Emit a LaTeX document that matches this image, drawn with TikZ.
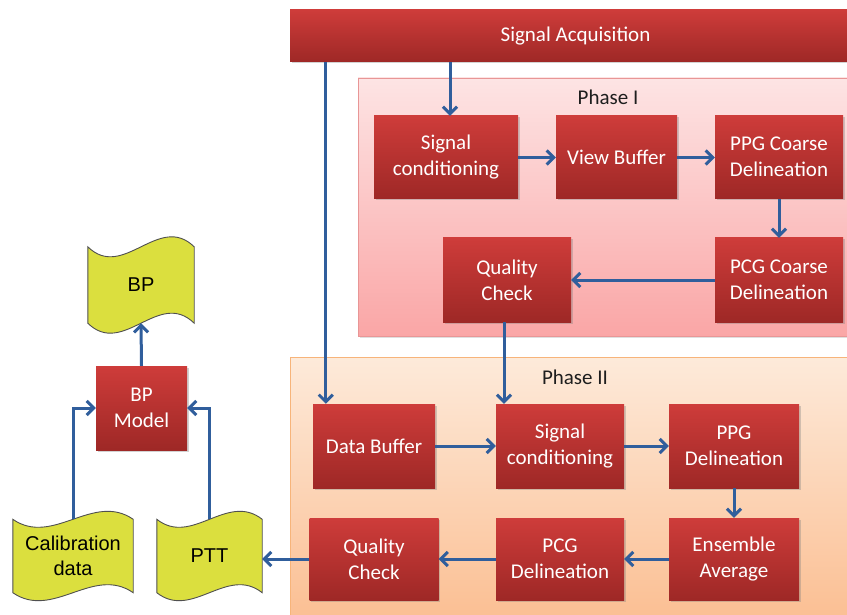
\documentclass[tikz,border=0pt]{standalone}
\usepackage{fontspec}
\setmainfont{Carlito}
\newfontfamily\arialf{Liberation Sans}
\usetikzlibrary{arrows.meta,shadows,calc}
\pgfdeclarelayer{bg}
\pgfsetlayers{bg,main}
\definecolor{arrowblue}{RGB}{48,94,156}
\definecolor{boxtop}{RGB}{206,60,58}
\definecolor{boxbot}{RGB}{158,40,38}
\definecolor{tapefill}{RGB}{219,223,62}
\definecolor{tapeline}{RGB}{80,80,80}
\definecolor{panelAline}{RGB}{232,150,150}
\definecolor{panelAtop}{RGB}{253,228,228}
\definecolor{panelAbot}{RGB}{250,166,166}
\definecolor{panelBline}{RGB}{247,180,122}
\definecolor{panelBtop}{RGB}{253,234,218}
\definecolor{panelBbot}{RGB}{251,188,142}
\definecolor{labeltext}{RGB}{30,30,30}
\tikzset{
  redbox/.style={rectangle, draw=none, top color=boxtop, bottom color=boxbot,
    text=white, font=\fontsize{21}{26}\selectfont, align=center, inner sep=2pt,
    drop shadow={shadow xshift=1.5pt, shadow yshift=-1.5pt, opacity=.35}},
  panelA/.style={rectangle, draw=panelAline, line width=0.8pt, top color=panelAtop,
    bottom color=panelAbot, drop shadow={shadow xshift=1.5pt, shadow yshift=-1.5pt, opacity=.25}},
  panelB/.style={rectangle, draw=panelBline, line width=0.8pt, top color=panelBtop,
    bottom color=panelBbot, drop shadow={shadow xshift=1.5pt, shadow yshift=-1.5pt, opacity=.25}},
  phaselabel/.style={font=\fontsize{21}{26}\selectfont, text=labeltext},
  tapenode/.style={rectangle, draw=none, inner sep=0pt, align=center,
    font=\arialf\fontsize{20}{25}\selectfont, text=black},
  tapeshape/.style={fill=tapefill, draw=tapeline, line width=0.9pt},
  arr/.style={draw=arrowblue, line width=3pt,
    -{Straight Barb[length=7pt,width=14pt]}}
}
\newcommand\tapepath[2]{%
  \begin{pgfonlayer}{bg}
  \filldraw[tapeshape] let \p1=(#1.north west), \p2=(#1.south east),
      \n1={(\x2-\x1)/3}, \n2={3.46*#2} in
    (\x1,\y1) .. controls ({\x1+\n1*1pt},{\y1-\n2*1pt}) and ({\x1+2*\n1*1pt},{\y1+\n2*1pt}) .. (\x2,\y1)
    -- (\x2,\y2) .. controls ({\x1+2*\n1*1pt},{\y2+\n2*1pt}) and ({\x1+\n1*1pt},{\y2-\n2*1pt}) .. (\x1,\y2)
    -- cycle;
  \end{pgfonlayer}}
\begin{document}
\begin{tikzpicture}[x=1pt,y=-1pt]
\clip (0,0) rectangle (847,615);
\begin{pgfonlayer}{bg}
\fill[white] (0,0) rectangle (847,615);
\end{pgfonlayer}

% panels
\node[panelA, minimum width=500pt, minimum height=258pt] (p1) at (608,207) {};
\node[panelB, minimum width=570pt, minimum height=280pt] (p2) at (575,497) {};
\node[phaselabel] (lab1) at (608,97) {Phase I};
\node[phaselabel] (lab2) at (575,377) {Phase II};

% top bar
\node[redbox, minimum width=571pt, minimum height=52pt] (sa) at (575.5,36) {Signal Acquisition};

% phase I
\node[redbox, minimum width=144pt, minimum height=83pt] (sc1) at (446,157.5) {Signal\\conditioning};
\node[redbox, minimum width=121pt, minimum height=83pt] (vb) at (616.5,157.5) {View Buffer};
\node[redbox, minimum width=128pt, minimum height=83pt] (ppgc) at (779,157) {PPG Coarse\\Delineation};
\node[redbox, minimum width=128pt, minimum height=84pt] (pcgc) at (779,280) {PCG Coarse\\Delineation};
\node[redbox, minimum width=128pt, minimum height=84pt] (qc1) at (507,280) {Quality\\Check};

% phase II
\node[redbox, minimum width=122pt, minimum height=84pt] (db) at (374,446) {Data Buffer};
\node[redbox, minimum width=128pt, minimum height=84pt] (sc2) at (560,446) {Signal\\conditioning};
\node[redbox, minimum width=130pt, minimum height=84pt] (ppgd) at (734,446) {PPG\\Delineation};
\node[redbox, minimum width=130pt, minimum height=82pt] (ens) at (734,559) {Ensemble\\Average};
\node[redbox, minimum width=128pt, minimum height=82pt] (pcgd) at (560,559) {PCG\\Delineation};
\node[redbox, minimum width=129pt, minimum height=82pt] (qc2) at (374,559) {Quality\\Check};

% left side
\node[redbox, minimum width=91pt, minimum height=84pt] (bpm) at (141.5,408) {BP\\Model};
\node[tapenode, minimum width=106pt, minimum height=76pt] (bp) at (141,285) {BP};
\node[tapenode, minimum width=120pt, minimum height=73pt] (cal) at (73,556) {Calibration\\data};
\node[tapenode, minimum width=105pt, minimum height=73pt] (ptt) at (209.5,556) {PTT};
\tapepath{bp}{10}
\tapepath{cal}{8}
\tapepath{ptt}{8}

% connectors
\coordinate (dbin) at ($(db.north west)+(13,0)$);
\coordinate (sc1in) at ($(sc1.north)+(4,0)$);
\draw[arr] (sa.south -| sc1in) -- (sc1in);
\draw[arr] (sa.south -| dbin) -- (dbin);
\draw[arr] (sc1.east) -- (vb.west);
\draw[arr] (vb.east) -- (vb.east -| ppgc.west);
\draw[arr] (ppgc.south) -- (pcgc.north);
\draw[arr] (pcgc.west) -- (qc1.east);
\coordinate (qcout) at ($(qc1.south)+(-3,0)$);
\draw[arr] (qcout) -- (qcout |- sc2.north);
\draw[arr] (db.east) -- (sc2.west);
\draw[arr] (sc2.east) -- (ppgd.west);
\draw[arr] (ppgd.south) -- (ens.north);
\draw[arr] (ens.west) -- (pcgd.east);
\draw[arr] (pcgd.west) -- (qc2.east);
\draw[arr] (qc2.west) -- (qc2.west -| ptt.east);
\draw[arr] (cal.north) |- (bpm.west);
\draw[arr] (ptt.north) |- (bpm.east);
\draw[arr] (bpm.north) -- (bp.south);
\end{tikzpicture}
\end{document}
